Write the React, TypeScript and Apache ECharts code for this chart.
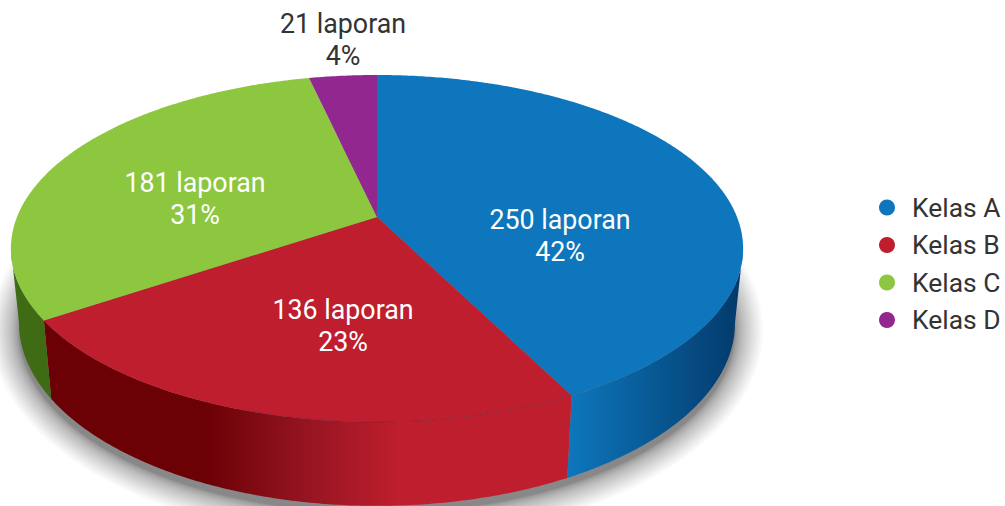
import React, { useEffect, useRef } from "react";
import * as echarts from "echarts";

const categories = ["Kelas A", "Kelas B", "Kelas C", "Kelas D"];
const reports = [250, 136, 181, 21];
const percentLabels = ["42%", "23%", "31%", "4%"];
const colors = ["#0e76bc", "#be1e2d", "#8dc63f", "#92278f"];
const labelColors = ["#ffffff", "#ffffff", "#ffffff", "#333333"];
const labelCentres = [[560, 236], [343, 326], [195, 199], [343, 40]];

const WIDTH = 1005;
const HEIGHT = 506;
const TOTAL = reports.reduce((a, b) => a + b, 0);
const APEX_X = 377;
const K = 0.1816;
const TOP = { c: 360, a: 128.4, b: 217 };
const BOTTOM = { c: 352, a: 124, b: 290 };
const VISIBLE_FROM = 100.4;
const VISIBLE_TO = 259.6;
const SHADOW_LAYERS = 24;
const SHADOW_SPREAD = 28;

function project(deg: number, disc: { c: number; a: number; b: number }, r = 1): number[] {
  const t = (deg * Math.PI) / 180;
  const u = r * Math.sin(t);
  const v = -r * Math.cos(t);
  const w = 1 - K * v;
  return [APEX_X + (disc.c * u) / w, (disc.a * v + disc.b) / w];
}

function arc(from: number, to: number, disc: { c: number; a: number; b: number }): number[][] {
  const n = Math.max(2, Math.ceil(Math.abs(to - from) * 2));
  const pts: number[][] = [];
  for (let i = 0; i <= n; i++) pts.push(project(from + ((to - from) * i) / n, disc));
  return pts;
}

const grad = (x0: number, x1: number, stops: [number, string][]) =>
  new echarts.graphic.LinearGradient(
    x0, 0, x1, 0,
    stops.map(([offset, color]) => ({ offset, color })),
    true
  );

const wallFills = [
  () => grad(570, 740, [[0, "#0e76bc"], [1, "#033a6b"]]),
  () => grad(205, 398, [[0, "#6b0005"], [0.5, "#931420"], [1, "#be1e2d"]]),
  () => "#3f6b14",
  () => "#92278f",
];

function renderSlice(index: number) {
  return (_params: any, api: any) => {
    let before = 0;
    for (let i = 0; i < index; i++) before += reports[i];
    const start = (before / TOTAL) * 360;
    const end = ((before + Number(api.value(0))) / TOTAL) * 360;
    const children: any[] = [];
    const wa = Math.max(start, VISIBLE_FROM);
    const wb = Math.min(end, VISIBLE_TO);
    if (wb > wa) {
      children.push({
        type: "polygon",
        shape: { points: [...arc(wa, wb, TOP), ...arc(wb, wa, BOTTOM)] },
        style: { fill: wallFills[index]() },
      });
    }
    children.push({
      type: "polygon",
      shape: { points: [[APEX_X, TOP.b], ...arc(start, end, TOP)] },
      style: { fill: colors[index] },
    });
    if (index === 1) {
      children.push({
        type: "polyline",
        shape: { points: arc(start, start + 45, TOP) },
        style: { fill: "none", stroke: "rgba(110,30,60,0.35)", lineWidth: 1 },
      });
    }
    children.push({
      type: "text",
      style: {
        text: `${reports[index]} laporan\n${percentLabels[index]}`,
        x: labelCentres[index][0],
        y: labelCentres[index][1],
        align: "center",
        verticalAlign: "middle",
        fill: labelColors[index],
        fontFamily: "Roboto",
        fontSize: 26.8,
        lineHeight: 32,
      },
    });
    return { type: "group", children };
  };
}

function renderShadow() {
  const children: any[] = [];
  const base = arc(0, 360, BOTTOM);
  const cx = APEX_X;
  const cy = 323;
  for (let i = SHADOW_LAYERS; i >= 1; i--) {
    const f = i / SHADOW_LAYERS;
    const grow = SHADOW_SPREAD * f * f;
    const scaleX = 1 + grow / 358;
    const scaleY = 1 + grow / 183;
    children.push({
      type: "polygon",
      shape: { points: base.map(([x, y]) => [cx + (x - cx) * scaleX, cy + (y - cy) * scaleY + 7]) },
      style: { fill: "rgba(0,0,0,0.022)" },
    });
  }
  return { type: "group", children };
}

export default function App() {
  const ref = useRef<HTMLDivElement>(null);
  useEffect(() => {
    const chart = echarts.init(ref.current!, undefined, { renderer: "svg" });
    chart.setOption({
      animation: false,
      backgroundColor: "#ffffff",
      legend: {
        data: categories,
        orient: "vertical",
        left: 879,
        top: 193,
        padding: 0,
        icon: "circle",
        itemWidth: 16,
        itemHeight: 16,
        itemGap: 8.5,
        selectedMode: false,
        textStyle: { fontFamily: "Roboto", fontSize: 26.4, color: "#333333", padding: [0, 0, 0, 12], lineHeight: 29 },
      },
      series: [
        {
          type: "custom",
          name: "shadow",
          coordinateSystem: "none",
          silent: true,
          z: 1,
          data: [[TOTAL]],
          renderItem: renderShadow,
        },
        ...categories.map((name, i) => ({
          type: "custom",
          name,
          coordinateSystem: "none",
          silent: true,
          z: 2,
          itemStyle: { color: colors[i] },
          data: [[reports[i]]],
          renderItem: renderSlice(i),
        })),
      ],
    });
    return () => chart.dispose();
  }, []);
  return (
    <div
      ref={ref}
      style={{ position: "fixed", left: 0, top: 0, width: WIDTH, height: HEIGHT, overflow: "hidden" }}
    />
  );
}
